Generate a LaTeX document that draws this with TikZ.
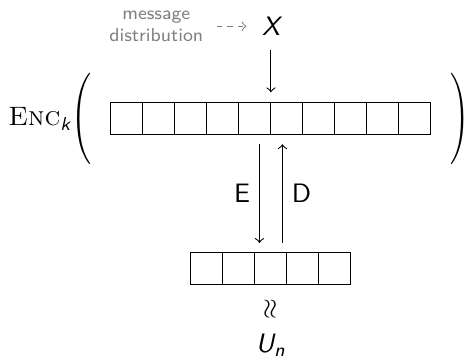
\documentclass[tikz,border=0pt]{standalone}
\usepackage{amsmath}
\usetikzlibrary{
	chains,
	positioning
}

\newcommand{\sfi}[1]{\textsf{\itshape #1}}

\begin{document}
\begin{tikzpicture}[
	node distance = 0pt and 0pt,
	start chain = big going right,
	cell/.style = {
		rectangle, draw,
		minimum size=12pt,
		inner sep=0pt, outer sep=0pt
	},
	sym/.style = {font=\sffamily\itshape},
	note/.style = {
		font=\sffamily\scriptsize,
		text=black!50, align=center
	}
]
	\useasboundingbox (-101.6pt,-89.3pt) rectangle (72.4pt,44.6pt);

	% long word
	\node (c1) [cell, on chain] at (-54pt,0) {};
	\foreach \i in {2,...,10}
		\node (c\i) [cell, on chain] {};

	% short word
	\begin{scope}[start chain = small going right]
		\node (s1) [cell, on chain, below=44pt of c3.south east] {};
		\foreach \i in {2,...,5}
			\node (s\i) [cell, on chain] {};
	\end{scope}

	\node (lp) [left=5pt of c1, inner sep=2pt] {\scalebox{0.95}[1.14]{$\Bigg($}};
	\node (rp) [right=5pt of c10, inner sep=2pt] {\scalebox{0.9}[1.14]{$\Bigg)$}};
	\node (enc) [left=-5.6pt of lp] {\textsc{Enc}$_{\sfi{k}}$};

	\node (X) [sym, above=21.75pt of c5.north east] {X};
	\node (msg) [note, left=15pt of X] {message\\distribution};

	\draw [->, black!50, dash pattern=on 2pt off 2pt, shorten <=1.5pt, shorten >=2.3pt]
		(msg) -- (X);
	\draw [->, shorten <=2pt, shorten >=4pt] (X) -- (c5.north east);

	\draw [->, shorten <=3.5pt, shorten >=3.5pt]
		([xshift=-4.3pt]c5.south east) -- ([xshift=-4.3pt]s3.north)
		node [midway, left, font=\sffamily] {E};
	\draw [<-, shorten <=3.5pt, shorten >=3.5pt]
		([xshift=4.3pt]c5.south east) -- ([xshift=4.3pt]s3.north)
		node [midway, right, font=\sffamily] {D};

	\node (wr) [below=1.8pt of s3] {\rotatebox{90}{$\approx$}};
	\node (U) [below=-1.5pt of wr] {$\sfi{U}_{\sfi{n}}$};
\end{tikzpicture}
\end{document}
